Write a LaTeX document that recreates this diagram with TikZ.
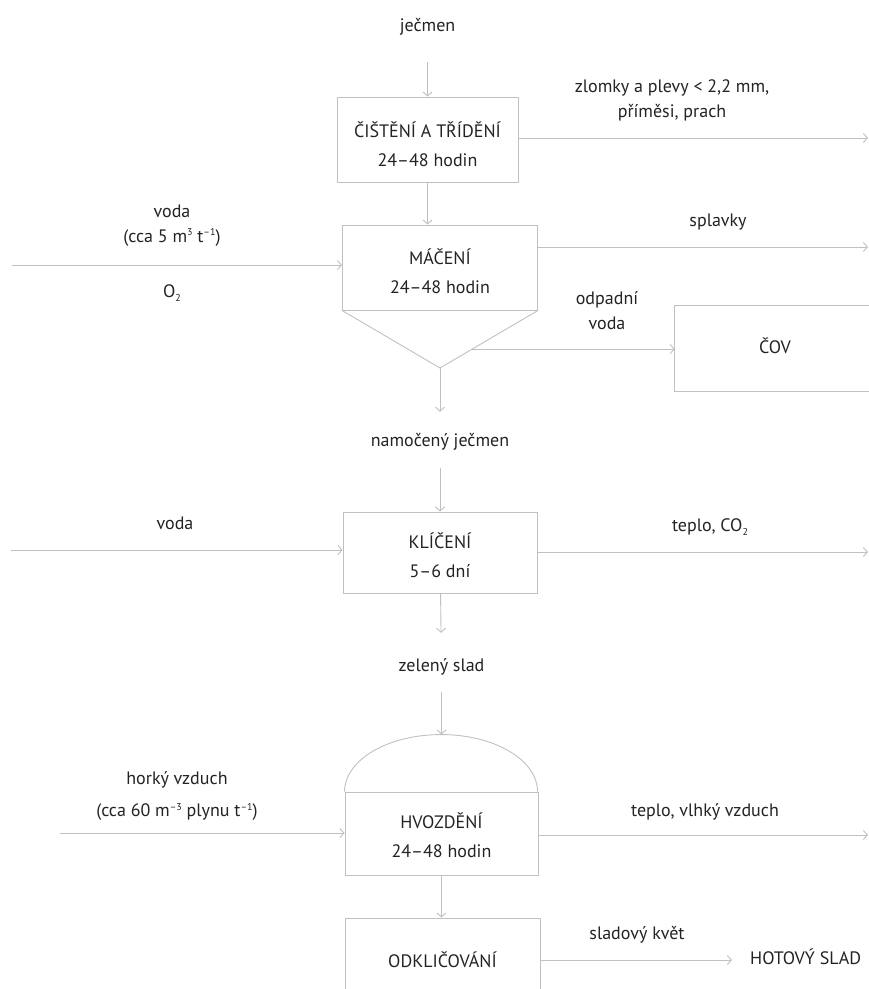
\documentclass[tikz,border=0pt]{standalone}
\usepackage{fontspec}
\setmainfont{PT Sans}
\usetikzlibrary{arrows.meta,calc}
\definecolor{lncol}{RGB}{192,192,192}
\definecolor{txcol}{RGB}{35,35,35}
\newcommand{\mysup}[1]{\raisebox{6.5pt}{\fontsize{10}{10}\selectfont #1}}
\newcommand{\mysub}[1]{\raisebox{-3.5pt}{\fontsize{10}{10}\selectfont #1}}
\begin{document}
\begin{tikzpicture}[x=1pt,y=-1pt,
  lbl/.style={font=\fontsize{18}{25}\selectfont, text=txcol, inner sep=0pt, text height=13pt, text depth=4pt},
  mlbl/.style={font=\fontsize{18}{25}\selectfont, text=txcol, inner sep=0pt, align=center},
  box/.style={draw=lncol, line width=0.9pt, text=txcol, font=\fontsize{18}{29}\selectfont, align=center, inner sep=0pt},
  plain/.style={draw=lncol, line width=0.9pt},
  arr/.style={draw=lncol, line width=0.9pt, -{Straight Barb[length=4pt,width=9pt]}}]
\useasboundingbox (0,0) rectangle (869,989);
\clip (0,0) rectangle (869,989);

% process boxes
\node[box, minimum width=181pt, minimum height=85pt] (b1) at (427.5,139.5) {\rule{0pt}{25pt}ČIŠTĚNÍ A TŘÍDĚNÍ\\24–48 hodin};
\node[box, minimum width=195pt, minimum height=85pt] (b2) at (440,267.5) {\rule{0pt}{24pt}MÁČENÍ\\24–48 hodin};
\coordinate (apex) at (440,368);
\draw[plain] (b2.south west) -- (apex) -- (b2.south east);
\node[lbl, minimum width=200pt, minimum height=85pt] (cov) at (775,348.5) {ČOV};
\draw[plain] (cov.north east) -- (cov.north west) -- (cov.south west) -- (cov.south east);
\node[box, minimum width=194pt, minimum height=81pt] (b3) at (440,552.5) {\rule{0pt}{22pt}KLÍČENÍ\\5–6 dní};
\node[box, minimum width=193pt, minimum height=83pt] (b4) at (441.5,833.5) {\rule{0pt}{20pt}HVOZDĚNÍ\\24–48 hodin};
\draw[plain] (b4.north west) arc[start angle=180, end angle=0, x radius=96.5pt, y radius=57pt];
\coordinate (dtop) at ($(b4.north)+(0,-57)$);
\node[box, minimum width=195pt, minimum height=84pt] (b5) at (442.5,960) {ODKLIČOVÁNÍ};

% labels
\node[lbl] (jecmen) at (427.5,27) {ječmen};
\node[mlbl] (zlomky) at (672,100) {zlomky a plevy < 2,2 mm,\\příměsi, prach};
\node[mlbl] (voda1) at (172,225.5) {voda\\(cca 5 m\mysup{3} t\mysup{–1})};
\node[lbl] (o2lbl) at (172,293) {O\mysub{2}};
\node[lbl] (splav) at (718,222) {splavky};
\node[mlbl] (odpad) at (607,310.5) {odpadní\\voda};
\node[lbl] (namoc) at (440,442) {namočený ječmen};
\node[lbl] (voda2) at (175,525) {voda};
\node[lbl] (teplo1) at (710,527) {teplo, CO\mysub{2}};
\node[lbl] (zelen) at (441.5,667) {zelený slad};
\node[mlbl] (horky) at (177,796) {horký vzduch\\[7pt](cca 60 m\mysup{–3} plynu t\mysup{–1})};
\node[lbl] (teplo2) at (705,812) {teplo, vlhký vzduch};
\node[lbl] (kvet) at (637,935) {sladový květ};
\node[lbl, anchor=west] (hot) at (750,960) {HOTOVÝ SLAD};

% free ends
\coordinate (o1) at (868,138);
\coordinate (i2) at (12,265);
\coordinate (o2) at (868,247);
\coordinate (i3) at (11,550);
\coordinate (o3) at (868,552);
\coordinate (i4) at (60,833);
\coordinate (o4) at (868,835);
\coordinate (vw) at ($(b2.south east)!0.67!(apex)$);

% connectors
\draw[arr, shorten <=26.5pt] (jecmen) -- (b1);
\draw[arr] (b1.south) -- (b1.south |- b2.north);
\draw[arr] (b1.east |- o1) -- (o1);
\draw[arr] (i2) -- (i2 -| b2.west);
\draw[arr] (o2 -| b2.east) -- (o2);
\draw[arr] (vw) -- (vw -| cov.west);
\draw[arr, shorten >=21.5pt] (apex) -- (namoc);
\draw[arr, shorten <=17.5pt] (namoc) -- (b3);
\draw[arr] (i3) -- (i3 -| b3.west);
\draw[arr] (o3 -| b3.east) -- (o3);
\draw[arr, shorten >=25.5pt] (b3) -- (zelen);
\draw[arr, shorten <=16.5pt] (zelen) -- (dtop);
\draw[arr] (i4) -- (i4 -| b4.west);
\draw[arr] (o4 -| b4.east) -- (o4);
\draw[arr] (b4.south) -- (b4.south |- b5.north);
\draw[arr, shorten >=18pt] (b5.east |- hot.west) -- (hot.west);
\end{tikzpicture}
\end{document}
